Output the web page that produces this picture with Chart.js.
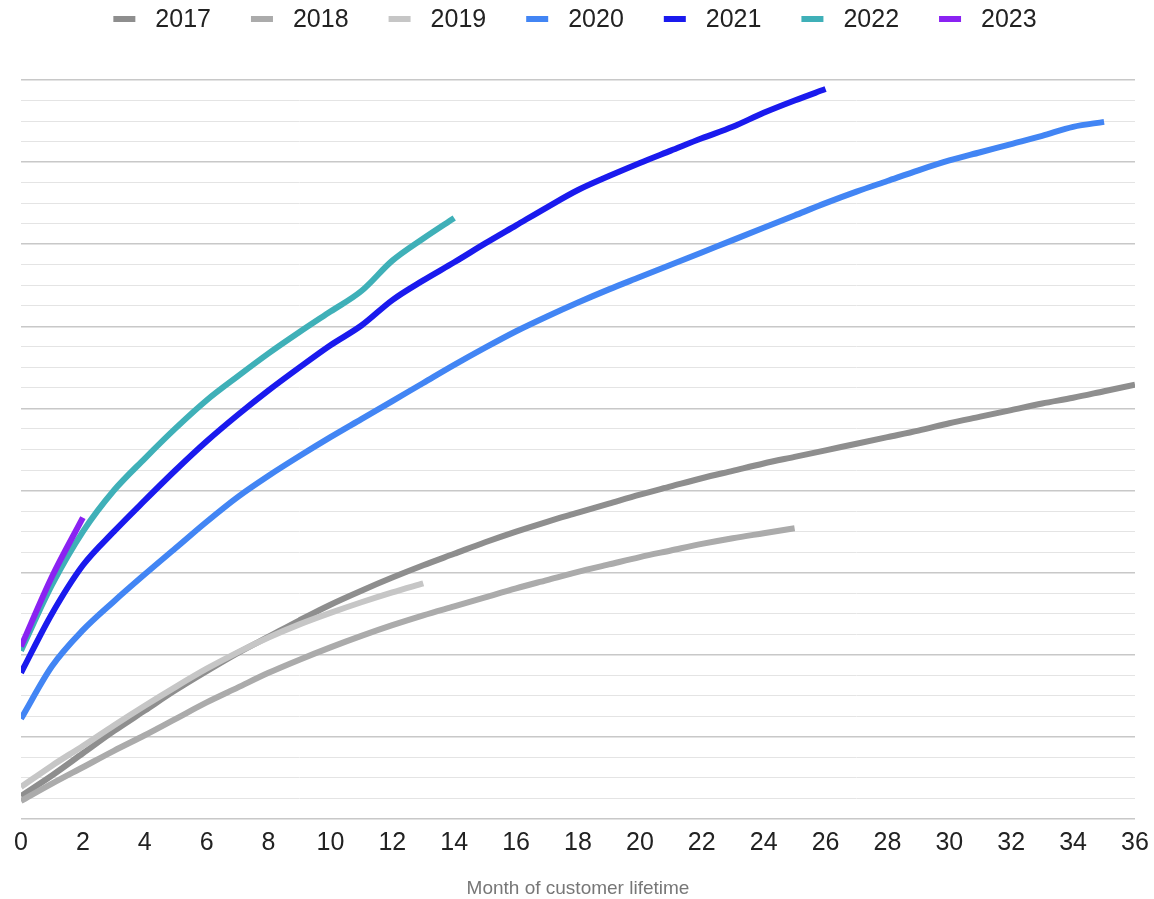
<!DOCTYPE html>
<html>
<head>
<meta charset="utf-8">
<script src="https://cdn.jsdelivr.net/npm/chart.js@4.4.0/dist/chart.umd.min.js"></script>
<style>
  body { margin: 0; background: #fff; }
  #wrap { width: 1154px; height: 899px; }
</style>
</head>
<body>
<div id="wrap"><canvas id="cohortChart"></canvas></div>
<script>
// ------------------ Data ------------------

const months = [0, 1, 2, 3, 4, 5, 6, 7, 8, 9, 10, 11, 12, 13, 14, 15, 16, 17, 18,
  19, 20, 21, 22, 23, 24, 25, 26, 27, 28, 29, 30, 31, 32, 33, 34, 35, 36];

const years = ["2017", "2018", "2019", "2020", "2021", "2022", "2023"];

const y2017 = [0.28, 0.53, 0.80, 1.07, 1.32, 1.57, 1.80, 2.02, 2.22, 2.42, 2.61, 2.78, 2.94,
  3.09, 3.23, 3.37, 3.50, 3.62, 3.73, 3.84, 3.95, 4.05, 4.15, 4.24, 4.33, 4.41, 4.49,
  4.57, 4.65, 4.73, 4.82, 4.90, 4.98, 5.06, 5.13, 5.21, 5.29];
const y2018 = [0.22, 0.43, 0.63, 0.83, 1.02, 1.22, 1.42, 1.60, 1.78, 1.94, 2.09, 2.23, 2.36,
  2.48, 2.59, 2.70, 2.81, 2.91, 3.01, 3.10, 3.19, 3.27, 3.35, 3.42, 3.48, 3.54];
const y2019 = [0.39, 0.65, 0.89, 1.14, 1.38, 1.61, 1.83, 2.03, 2.21, 2.37, 2.51, 2.64, 2.76, 2.87];
const y2020 = [1.22, 1.86, 2.30, 2.65, 2.98, 3.30, 3.62, 3.92, 4.18, 4.42, 4.65, 4.87, 5.09,
  5.31, 5.53, 5.74, 5.94, 6.12, 6.29, 6.45, 6.60, 6.75, 6.90, 7.05, 7.20, 7.35, 7.50,
  7.64, 7.77, 7.90, 8.02, 8.12, 8.22, 8.32, 8.43, 8.49];
const y2021 = [1.78, 2.50, 3.09, 3.50, 3.88, 4.25, 4.60, 4.92, 5.22, 5.50, 5.77, 6.01, 6.32,
  6.56, 6.78, 7.01, 7.23, 7.45, 7.66, 7.83, 7.99, 8.14, 8.29, 8.43, 8.60, 8.75, 8.89];
const y2022 = [2.05, 2.85, 3.50, 4.00, 4.39, 4.76, 5.10, 5.39, 5.67, 5.93, 6.18, 6.43, 6.80, 7.07, 7.32];
const y2023 = [2.10, 2.95, 3.67];

const xTicks = [0, 2, 4, 6, 8, 10, 12, 14, 16, 18, 20, 22, 24, 26, 28, 30, 32, 34, 36];

const lineColors = ["#8e8e8e", "#ababab", "#c6c6c6", "#4285f4", "#1a1aee", "#3fb0b8", "#8a22f2"];

// ------------------ Chart ------------------

const FONT = "'Liberation Sans', Arial, Helvetica, sans-serif";

function toPoints(values) {
  return values.map((v, i) => ({ x: months[i], y: v }));
}

const series = [y2017, y2018, y2019, y2020, y2021, y2022, y2023];

const datasets = series.map((values, i) => ({
  label: years[i],
  data: toPoints(values),
  borderColor: lineColors[i],
  backgroundColor: lineColors[i],
  borderWidth: 6,
  pointRadius: 0,
  cubicInterpolationMode: 'monotone',
  order: series.length - i
}));

// legend drawn across the top, centred like the original
const topLegend = {
  id: 'topLegend',
  afterDraw(chart) {
    const ctx = chart.ctx;
    const boxW = 22, boxH = 6, gap = 20, spacing = 40, cy = 19;
    ctx.save();
    ctx.font = "25px " + FONT;
    ctx.textBaseline = 'middle';
    const items = chart.data.datasets.map(ds => ({
      text: ds.label, color: ds.borderColor, w: boxW + gap + ctx.measureText(ds.label).width
    }));
    const total = items.reduce((s, it) => s + it.w, 0) + spacing * (items.length - 1);
    let x = chart.width / 2 - total / 2 - 2;
    items.forEach(it => {
      ctx.fillStyle = it.color;
      ctx.fillRect(x, cy - boxH / 2, boxW, boxH);
      ctx.fillStyle = "#222";
      ctx.fillText(it.text, x + boxW + gap, cy + 1);
      x += it.w + spacing;
    });
    ctx.restore();
  }
};

new Chart(document.getElementById("cohortChart").getContext("2d"), {
  type: 'line',
  data: { datasets },
  options: {
    responsive: true,
    maintainAspectRatio: false,
    animation: false,
    layout: { padding: { left: 21, right: 19, top: 80, bottom: 1 } },
    plugins: { legend: { display: false }, tooltip: { enabled: false } },
    scales: {
      x: {
        type: 'linear',
        min: 0,
        max: 36,
        afterBuildTicks: scale => { scale.ticks = xTicks.map(v => ({ value: v })); },
        afterFit: scale => { scale.paddingLeft = 0; scale.paddingRight = 0; },
        ticks: { font: { family: FONT, size: 25 }, color: "#222", padding: 9, maxRotation: 0 },
        grid: { display: false, drawTicks: false },
        border: { display: false },
        title: {
          display: true,
          text: "Month of customer lifetime",
          color: "#777",
          font: { family: FONT, size: 19, lineHeight: 1 },
          padding: { top: 12, bottom: 0 }
        }
      },
      y: {
        min: 0,
        max: 9,
        ticks: { display: false, stepSize: 0.25 },
        grid: {
          drawTicks: false,
          color: c => (c.tick.value % 1 === 0 ? "#c8c8c8" : "#e4e4e4"),
          lineWidth: c => (c.tick.value % 1 === 0 ? 1.6 : 1)
        },
        border: { display: false }
      }
    }
  },
  plugins: [topLegend]
});
</script>
</body>
</html>
